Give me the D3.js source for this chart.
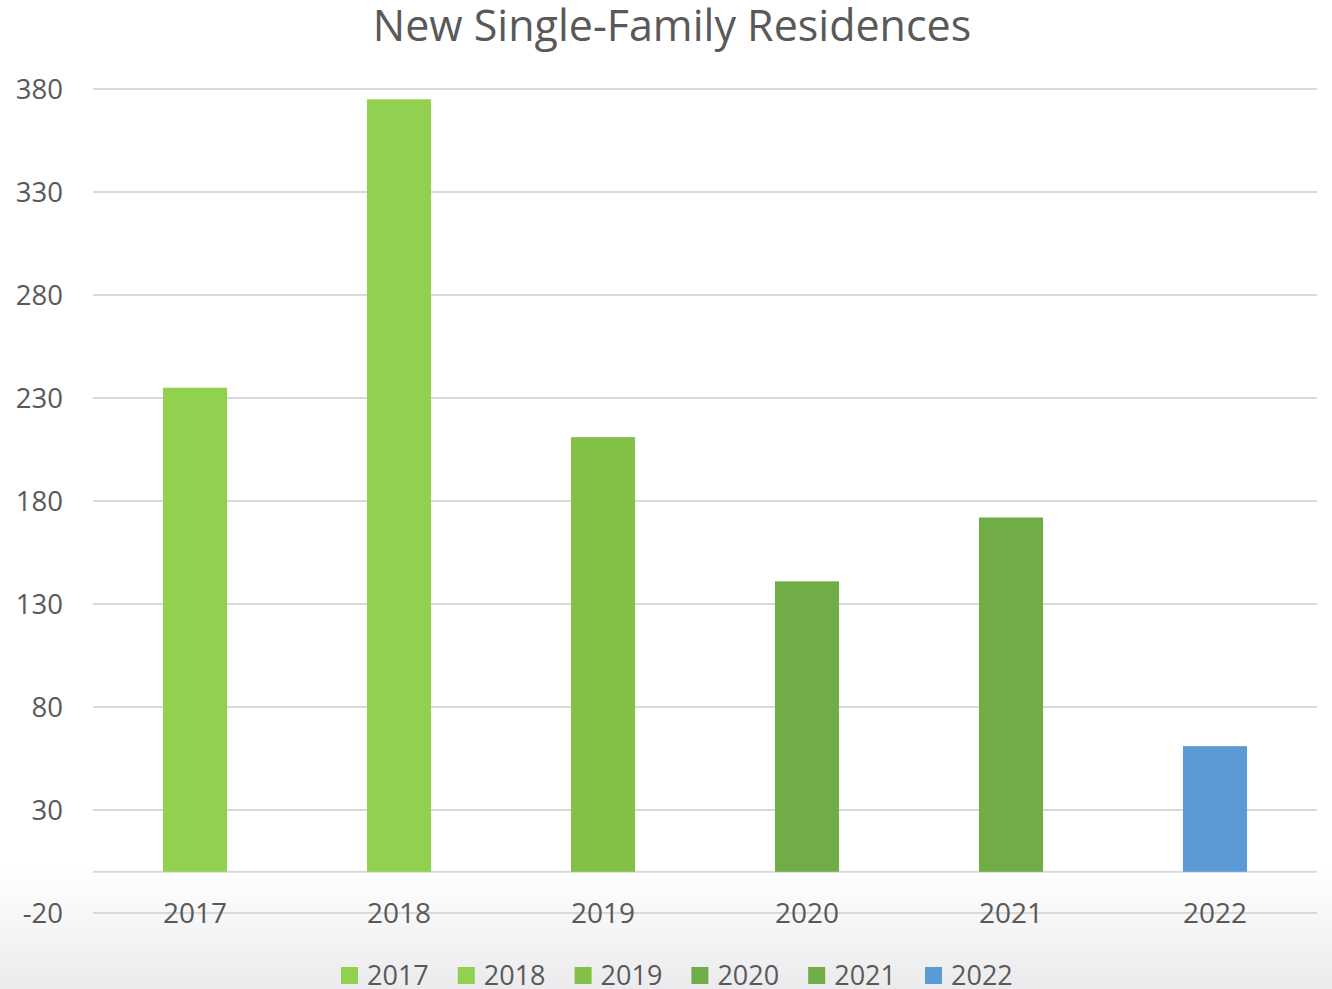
<!DOCTYPE html>
<meta charset="utf-8">
<script src="https://d3js.org/d3.v7.min.js"></script>
<style>
  body { margin: 0; background: #fff; }
  text { font-family: "Open Sans", "Liberation Sans", sans-serif; fill: #595959; }
</style>
<div id="chart"></div>
<script>
// data
var years = ["2017", "2018", "2019", "2020", "2021", "2022"];
var values = [235, 375, 211, 141, 172, 61];
var colors = ["#92d050", "#92d050", "#82c046", "#70ad47", "#70ad47", "#5b9bd5"];
var yTicks = [-20, 30, 80, 130, 180, 230, 280, 330, 380];

var W = 1332, H = 989;
var svg = d3.select("#chart").append("svg")
    .attr("width", W).attr("height", H);

// background fade at the bottom
var grad = svg.append("defs").append("linearGradient")
    .attr("id", "bg").attr("x1", 0).attr("y1", 0).attr("x2", 0).attr("y2", 1);
grad.append("stop").attr("offset", "0.88").attr("stop-color", "#ffffff");
grad.append("stop").attr("offset", "1").attr("stop-color", "#ebebed");
svg.append("rect").attr("width", W).attr("height", H).attr("fill", "url(#bg)");

var x = d3.scaleBand()
    .domain(years)
    .range([93, 1317])
    .paddingInner(0.686)
    .paddingOuter(0.343);

var y = d3.scaleLinear()
    .domain([-20, 380])
    .range([913, 89]);

// gridlines
svg.append("g").selectAll("line")
  .data(yTicks.concat([0]))
  .enter().append("line")
    .attr("x1", 93).attr("x2", 1317)
    .attr("y1", function(d) { return y(d); })
    .attr("y2", function(d) { return y(d); })
    .attr("stroke", "#d9d9d9")
    .attr("stroke-width", 2);

// y labels
svg.append("g").selectAll("text")
  .data(yTicks)
  .enter().append("text")
    .attr("x", 63)
    .attr("y", function(d) { return y(d); })
    .attr("dy", "0.35em")
    .attr("text-anchor", "end")
    .style("font-size", "27.5px")
    .text(function(d) { return d; });

// bars
svg.append("g").selectAll("rect")
  .data(values)
  .enter().append("rect")
    .attr("x", function(d, i) { return x(years[i]); })
    .attr("width", x.bandwidth())
    .attr("y", function(d) { return y(d); })
    .attr("height", function(d) { return y(0) - y(d); })
    .attr("fill", function(d, i) { return colors[i]; });

// category labels
svg.append("g").selectAll("text")
  .data(years)
  .enter().append("text")
    .attr("x", function(d) { return x(d) + x.bandwidth() / 2; })
    .attr("y", y(-20))
    .attr("dy", "0.35em")
    .attr("text-anchor", "middle")
    .style("font-size", "28px")
    .text(function(d) { return d; });

// title
svg.append("text")
    .attr("x", 672).attr("y", 41)
    .attr("text-anchor", "middle")
    .style("font-size", "43px")
    .text("New Single-Family Residences");

// legend
var leg = svg.append("g").selectAll("g")
  .data(years)
  .enter().append("g")
    .attr("transform", function(d, i) { return "translate(" + (341 + i * 116.8) + ",976)"; });
leg.append("rect")
    .attr("x", 0).attr("y", -9).attr("width", 17).attr("height", 17)
    .attr("fill", function(d, i) { return colors[i]; });
leg.append("text")
    .attr("x", 26).attr("dy", "0.35em")
    .style("font-size", "27px")
    .text(function(d) { return d; });
</script>
